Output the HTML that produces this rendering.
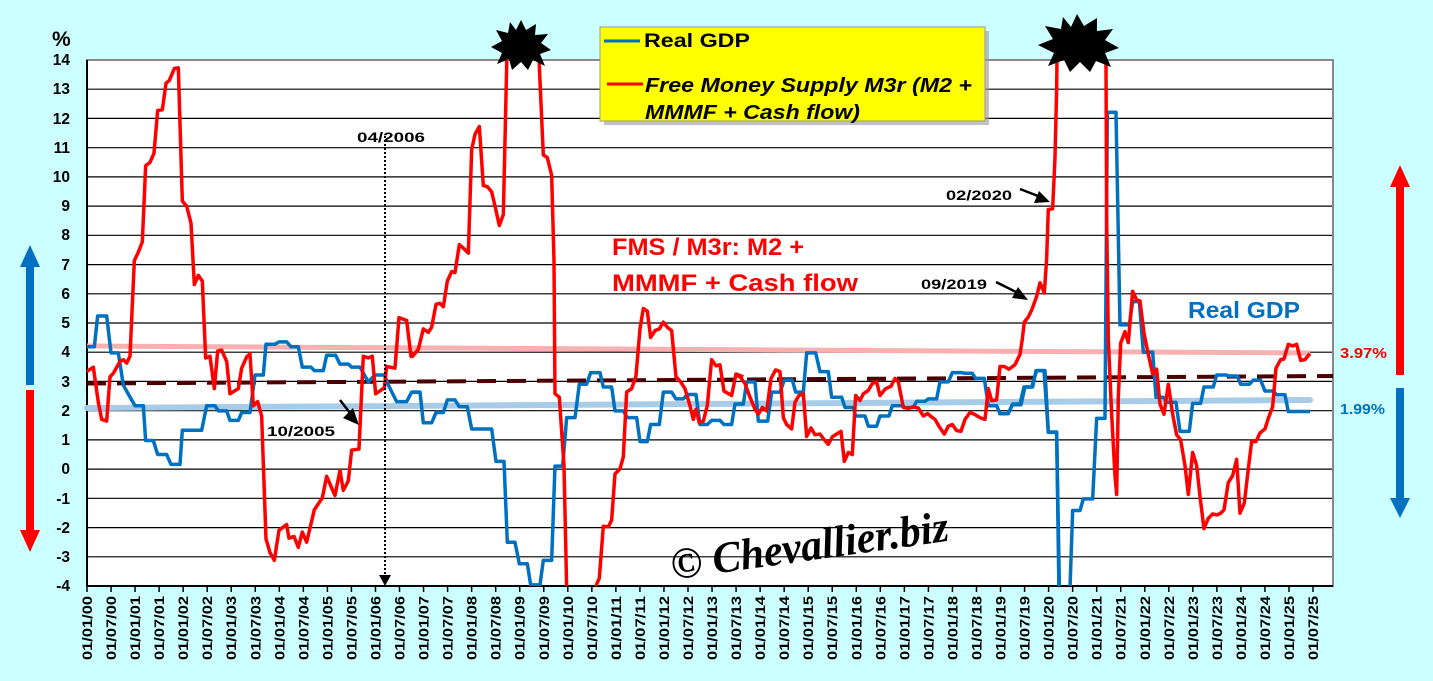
<!DOCTYPE html>
<html><head><meta charset="utf-8"><style>
html,body{margin:0;padding:0;background:#ccffff;}
svg{display:block;font-family:"Liberation Sans",sans-serif;}
</style></head><body>
<svg width="1433" height="681" viewBox="0 0 1433 681" xmlns="http://www.w3.org/2000/svg">
<defs>
<clipPath id="pc"><rect x="87" y="60" width="1246" height="526"/></clipPath>
</defs>
<rect width="1433" height="681" fill="#ccffff"/>
<rect x="87" y="60" width="1246" height="526" fill="#fff"/>
<g stroke="#000" stroke-width="1.2">
<line x1="87" x2="1333" y1="89.2" y2="89.2"/><line x1="87" x2="1333" y1="118.4" y2="118.4"/>
<line x1="87" x2="1333" y1="147.7" y2="147.7"/><line x1="87" x2="1333" y1="176.9" y2="176.9"/>
<line x1="87" x2="1333" y1="206.1" y2="206.1"/><line x1="87" x2="1333" y1="235.3" y2="235.3"/>
<line x1="87" x2="1333" y1="264.6" y2="264.6"/><line x1="87" x2="1333" y1="293.8" y2="293.8"/>
<line x1="87" x2="1333" y1="323" y2="323"/><line x1="87" x2="1333" y1="352.2" y2="352.2"/>
<line x1="87" x2="1333" y1="381.4" y2="381.4"/><line x1="87" x2="1333" y1="410.7" y2="410.7"/>
<line x1="87" x2="1333" y1="439.9" y2="439.9"/><line x1="87" x2="1333" y1="469.1" y2="469.1"/>
<line x1="87" x2="1333" y1="498.3" y2="498.3"/><line x1="87" x2="1333" y1="527.6" y2="527.6"/>
<line x1="87" x2="1333" y1="556.8" y2="556.8"/>
</g>
<rect x="87" y="60" width="1246" height="526" fill="none" stroke="#888" stroke-width="2"/>
<line x1="87" y1="60" x2="87" y2="586" stroke="#000" stroke-width="2"/>
<line x1="87" y1="586" x2="1333" y2="586" stroke="#000" stroke-width="2"/>
<g stroke="#000" stroke-width="1.5" id="ticks"></g>

<line x1="87" y1="346" x2="1310" y2="353" stroke="#f8b0b0" stroke-width="5"/>
<line x1="87" y1="408" x2="1310" y2="400" stroke="#a8cce8" stroke-width="6" stroke-linecap="round"/>
<line x1="87" y1="383.5" x2="1333" y2="376" stroke="#4a0000" stroke-width="4" stroke-dasharray="19,11"/>

<g clip-path="url(#pc)" fill="none" stroke-linejoin="round">
<g stroke="#0070c0" stroke-width="3.5">
<polyline vector-effect="non-scaling-stroke" transform="translate(85,55.9) scale(0.3333,0.3413)" points="0,852 28,852 38,762 65,762 78,870 100,870 115,965 150,1025 175,1025 182,1127 205,1127 218,1168 245,1168 258,1197 285,1197 292,1097 350,1097 365,1025 390,1025 400,1040 425,1040 435,1068 460,1068 470,1045 495,1045 510,935 535,935 543,845 570,845 582,838 605,838 618,852 640,852 652,912 678,912 688,922 715,922 725,877 752,877 765,903 790,903 800,912 825,912 850,955 870,935 898,935 912,968 935,1013 965,1013 980,985 1000,985"/>
<polyline vector-effect="non-scaling-stroke" transform="translate(410,55.9) scale(0.3333,0.3413)" points="10,985 30,985 40,1075 65,1075 78,1045 100,1045 112,1008 135,1008 148,1028 172,1028 185,1093 245,1093 258,1188 282,1188 292,1425 315,1425 328,1488 352,1488 362,1550 390,1550 400,1478 425,1478 435,1202 458,1202 470,1060 495,1060 508,962 530,962 542,928 570,928 580,970 605,970 615,1040 640,1040 652,1060 680,1060 690,1130 712,1130 722,1080 748,1080 760,985 785,985 798,1005 820,1005 832,992 858,992 870,1080 892,1080 905,1068 930,1068 942,1080 965,1080 975,1020 1000,1020"/>
<polyline vector-effect="non-scaling-stroke" transform="translate(735,55.9) scale(0.3333,0.3413)" points="10,1020 25,1020 35,955 60,955 70,1070 98,1070 110,985 135,985 148,950 172,950 182,985 205,985 215,870 242,870 255,925 280,925 290,1000 320,1000 330,1030 355,1030 362,1055 390,1055 400,1085 425,1085 435,1055 462,1055 472,1025 500,1025 510,1030 535,1030 545,1012 570,1012 580,1005 605,1005 615,955 640,955 652,928 680,928 690,930 712,930 722,945 748,945 760,1025 785,1025 795,1048 820,1048 832,1022 858,1022 870,970 890,970 905,922 930,922 940,1103 965,1103 975,1650"/>
<polyline vector-effect="non-scaling-stroke" transform="translate(1000,55.9) scale(0.3333,0.3413)" points="178,1650 178,1560 210,1560 218,1332 240,1332 250,1298 278,1298 290,1062 315,1062 322,165 348,165 360,788 388,788 398,720 418,720 430,868 458,868 468,1000 490,1000 500,1015 528,1015 540,1100 568,1100 578,1018 602,1018 612,970 640,970 650,935 678,935 690,938 712,938 722,962 748,962 760,950 782,950 795,982 820,982 830,993 855,993 865,1042 930,1042"/>
<polyline vector-effect="non-scaling-stroke" transform="translate(1000,55.9) scale(0.3333,0.3413)" points="-5,1048 25,1048 38,1020 60,1020 72,970 98,970 108,922 132,922 145,1102 170,1102 178,1650"/>
</g>
<g stroke="#ff0000" stroke-width="3.5">
<polyline vector-effect="non-scaling-stroke" transform="translate(85,55.9) scale(0.3333,0.3413)" points="0,928 25,912 40,1015 50,1065 65,1070 75,940 85,930 105,895 115,890 125,900 135,880 148,600 160,575 172,545 182,322 195,312 207,285 218,160 232,158 243,80 253,72 268,37 280,35 292,425 305,440 318,490 328,670 340,643 352,660 362,885 375,880 388,975 398,865 410,862 425,895 435,990 460,975 470,915 485,882 495,873 505,1025 518,1013 530,1055 543,1415 555,1455 568,1478 582,1390 605,1373 612,1413 627,1408 640,1440 652,1395 665,1425 688,1330 712,1295 725,1232 750,1288 765,1215 775,1273 790,1245 800,1155 822,1152 835,880 850,885 862,880 872,990 898,973 905,910 930,915 942,767 965,775 978,880 990,870 1000,862"/>
<polyline vector-effect="non-scaling-stroke" transform="translate(410,55.9) scale(0.3333,0.3413)" points="0,862 8,880 25,860 40,800 55,810 65,795 78,728 90,725 100,735 112,660 125,632 135,635 148,553 162,565 175,578 185,275 195,230 208,207 220,380 232,383 245,398 255,440 268,497 280,465 290,30 292,-150 386,-150 388,30 400,290 412,298 425,350 432,600 435,990 448,1000 462,1200 472,1650 555,1650 555,1560 568,1530 580,1378 595,1380 605,1360 615,1225 630,1210 640,1175 650,985 665,975 678,938 690,800 700,740 712,748 722,825 735,805 748,800 760,780 772,795 785,805 798,940 812,955 825,975 840,1025 850,1065 858,1035 868,1075 880,1070 892,1025 905,890 918,908 930,905 942,982 965,995 978,932 1000,940"/>
<polyline vector-effect="non-scaling-stroke" transform="translate(735,55.9) scale(0.3333,0.3413)" points="0,935 15,940 30,960 45,1000 60,1035 70,1050 82,1030 95,1040 108,945 122,920 135,925 145,1060 155,1080 170,1093 180,1015 192,995 205,990 215,1115 228,1090 240,1110 255,1108 268,1125 280,1138 293,1115 318,1100 328,1188 340,1162 352,1168 362,995 375,1010 385,990 400,980 412,960 425,955 435,995 452,975 468,968 480,945 490,955 505,1030 520,1033 535,1028 550,1032 565,1055 578,1048 590,1058 600,1065 612,1085 628,1108 640,1085 652,1080 665,1098 678,1100 690,1065 705,1045 718,1050 735,1060 750,1065 760,975 770,1010 785,1008 795,910 808,910 822,918 840,905 855,875 862,830 868,780 880,765 890,745 905,705 915,665 928,695 935,595 940,450 953,448 960,300 965,100 968,-150"/>
<polyline vector-effect="non-scaling-stroke" transform="translate(1000,55.9) scale(0.3333,0.3413)" points="170,-150 318,-150 318,20 320,480 325,830 335,1050 345,1230 350,1285 355,1000 362,842 375,808 385,840 398,690 410,715 420,718 432,812 445,875 458,932 470,918 480,1020 492,1050 505,962 518,1050 530,1110 542,1125 555,1200 565,1285 578,1162 590,1200 600,1290 612,1385 625,1355 638,1342 652,1345 662,1340 672,1330 685,1250 698,1230 710,1182 720,1340 733,1310 745,1210 755,1130 768,1130 780,1105 795,1093 805,1062 818,1028 828,915 842,890 852,888 865,845 878,850 890,845 902,892 915,890 930,872"/>
</g>
</g>

<polygon fill="#000" points="521,20 526,30 536,24 535,35 548,34 541,43 551,50 540,54 545,66 533,60 528,70 521,62 512,70 509,59 497,64 502,53 491,47 502,41 496,30 508,33 510,22 516,30"/>
<polygon fill="#000" points="1077,14 1084,26 1097,18 1097,31 1113,29 1105,40 1119,48 1105,53 1111,67 1096,61 1090,72 1080,62 1070,72 1064,60 1048,66 1054,53 1038,45 1053,39 1045,26 1061,29 1063,17 1071,27"/>

<rect x="604" y="31" width="385" height="94" fill="#999" opacity="0.6"/>
<rect x="600" y="27" width="385" height="94" fill="#ffff00" stroke="#999" stroke-width="1"/>
<line x1="604" y1="41" x2="640" y2="41" stroke="#0070c0" stroke-width="3"/>
<text x="644" y="47" font-size="19" font-weight="bold" fill="#000" textLength="106" lengthAdjust="spacingAndGlyphs">Real GDP</text>
<line x1="607" y1="84" x2="643" y2="84" stroke="#ff0000" stroke-width="3"/>
<text x="645" y="92" font-size="20" font-weight="bold" font-style="italic" fill="#000" textLength="327" lengthAdjust="spacingAndGlyphs">Free Money Supply M3r (M2 +</text>
<text x="645" y="119" font-size="20" font-weight="bold" font-style="italic" fill="#000" textLength="215" lengthAdjust="spacingAndGlyphs">MMMF + Cash flow)</text>

<text x="357" y="142" font-size="14" font-weight="bold" textLength="68" lengthAdjust="spacingAndGlyphs">04/2006</text>
<line x1="385" y1="136" x2="385" y2="578" stroke="#000" stroke-width="2" stroke-dasharray="2,2"/>
<polygon points="379,575 391,575 385,586" fill="#000"/>
<text x="267" y="436" font-size="14" font-weight="bold" textLength="68" lengthAdjust="spacingAndGlyphs">10/2005</text>
<line x1="340" y1="400" x2="350" y2="413" stroke="#000" stroke-width="2.5"/>
<polygon points="359,425 343,418 353,408" fill="#000"/>
<text x="946" y="200" font-size="14" font-weight="bold" textLength="66" lengthAdjust="spacingAndGlyphs">02/2020</text>
<line x1="1020" y1="189" x2="1038" y2="196" stroke="#000" stroke-width="2.5"/>
<polygon points="1050,202 1034,203 1039,191" fill="#000"/>
<text x="921" y="289" font-size="14" font-weight="bold" textLength="66" lengthAdjust="spacingAndGlyphs">09/2019</text>
<line x1="996" y1="282" x2="1016" y2="292" stroke="#000" stroke-width="2.5"/>
<polygon points="1028,300 1012,298 1018,287" fill="#000"/>
<text x="612" y="255" font-size="24" font-weight="bold" fill="#ff0000" textLength="192" lengthAdjust="spacingAndGlyphs">FMS / M3r: M2 +</text>
<text x="612" y="291" font-size="24" font-weight="bold" fill="#ff0000" textLength="246" lengthAdjust="spacingAndGlyphs">MMMF + Cash flow</text>
<text x="1188" y="318" font-size="23" font-weight="bold" fill="#0070c0" textLength="112" lengthAdjust="spacingAndGlyphs">Real GDP</text>
<text x="1340" y="358" font-size="15" font-weight="bold" fill="#ff0000" textLength="47" lengthAdjust="spacingAndGlyphs">3.97%</text>
<text x="1340" y="414" font-size="15" font-weight="bold" fill="#0070c0" textLength="45" lengthAdjust="spacingAndGlyphs">1.99%</text>
<text x="668" y="560" font-size="44" font-style="italic" font-weight="bold" font-family="Liberation Serif, serif" transform="rotate(-8 810 535)" fill="#000" textLength="280" lengthAdjust="spacingAndGlyphs">© Chevallier.biz</text>

<rect x="26" y="265" width="8" height="120" fill="#0070c0"/><polygon points="20,267 40,267 30,245" fill="#0070c0"/>
<rect x="26" y="390" width="8" height="140" fill="#ff0000"/><polygon points="20,530 40,530 30,552" fill="#ff0000"/>
<rect x="1396" y="185" width="8" height="190" fill="#ff0000"/><polygon points="1390,187 1410,187 1400,165" fill="#ff0000"/>
<rect x="1396" y="388" width="8" height="110" fill="#0070c0"/><polygon points="1390,498 1410,498 1400,518" fill="#0070c0"/>

<text x="52" y="46" font-size="21" font-weight="bold">%</text>
<g font-size="15.5" font-weight="bold" text-anchor="end">
<text x="70" y="65">14</text><text x="70" y="94">13</text><text x="70" y="124">12</text><text x="70" y="153">11</text>
<text x="70" y="182">10</text><text x="70" y="211">9</text><text x="70" y="240">8</text><text x="70" y="270">7</text>
<text x="70" y="299">6</text><text x="70" y="328">5</text><text x="70" y="357">4</text><text x="70" y="387">3</text>
<text x="70" y="416">2</text><text x="70" y="445">1</text><text x="70" y="474">0</text><text x="70" y="504">-1</text>
<text x="70" y="533">-2</text><text x="70" y="562">-3</text><text x="70" y="591">-4</text>
</g>
<g id="xl" font-size="14" font-weight="bold"></g>
<script>
var t=document.getElementById('ticks'),xl=document.getElementById('xl'),ns='http://www.w3.org/2000/svg';
for(var i=0;i<52;i++){var x=87+i*24.04;
var l=document.createElementNS(ns,'line');l.setAttribute('x1',x);l.setAttribute('x2',x);l.setAttribute('y1',586);l.setAttribute('y2',592);t.appendChild(l);
var yy=Math.floor(i/2),lab='01/'+(i%2?'07':'01')+'/'+(yy<10?'0':'')+yy;
var tx=document.createElementNS(ns,'text');tx.setAttribute('text-anchor','start');
tx.setAttribute('textLength','64');tx.setAttribute('lengthAdjust','spacingAndGlyphs');
tx.setAttribute('transform','translate('+(x+5)+',660) rotate(-90)');tx.textContent=lab;xl.appendChild(tx);}
</script>
</svg>
</body></html>
